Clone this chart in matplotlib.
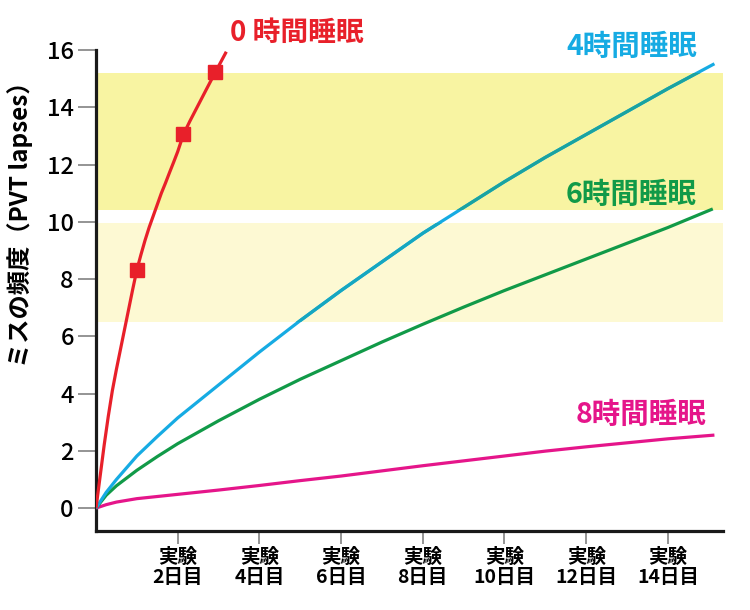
import matplotlib
matplotlib.use("Agg")
import matplotlib.pyplot as plt

plt.rcParams['font.family'] = ['Noto Sans CJK JP', 'DejaVu Sans']

# 0時間睡眠 (line + square markers)
days_0h = [0, 0.1, 0.2, 0.3, 0.4, 0.5, 0.6, 0.7, 0.8, 0.9, 1.0, 1.1, 1.2, 1.3,
           1.4, 1.5, 1.6, 1.7, 1.8, 1.9, 2.0, 2.14, 2.3, 2.5, 2.7, 2.92, 3.19]
lapses_0h = [0, 1.1, 2.2, 3.2, 4.1, 4.85, 5.55, 6.25, 6.95, 7.65, 8.32, 8.85,
             9.35, 9.8, 10.2, 10.6, 11.0, 11.35, 11.72, 12.08, 12.45, 13.05,
             13.52, 14.07, 14.62, 15.22, 15.94]
marker_days_0h = [1.0, 2.14, 2.92]
marker_lapses_0h = [8.32, 13.08, 15.22]

# 4時間睡眠
days_4h = [0, 0.25, 0.5, 1, 1.5, 2, 3, 4, 5, 6, 7, 8, 9, 10, 11, 12, 13, 14, 15.14]
lapses_4h = [0, 0.55, 1.0, 1.82, 2.5, 3.15, 4.3, 5.45, 6.55, 7.6, 8.6, 9.6,
             10.5, 11.4, 12.25, 13.05, 13.85, 14.65, 15.52]

# 6時間睡眠
days_6h = [0, 0.25, 0.5, 1, 1.5, 2, 3, 4, 5, 6, 7, 8, 9, 10, 11, 12, 13, 14, 15.1]
lapses_6h = [0, 0.45, 0.78, 1.32, 1.8, 2.25, 3.05, 3.8, 4.5, 5.15, 5.8, 6.42,
             7.02, 7.6, 8.15, 8.7, 9.25, 9.8, 10.45]

# 8時間睡眠
days_8h = [0, 0.25, 0.5, 1, 2, 3, 4, 5, 6, 7, 8, 9, 10, 11, 12, 13, 14, 15.14]
lapses_8h = [0, 0.12, 0.21, 0.33, 0.48, 0.63, 0.79, 0.96, 1.12, 1.3, 1.48,
             1.65, 1.82, 1.99, 2.14, 2.28, 2.42, 2.55]

# shaded ranges
band_high = (10.4, 15.2)
band_low = (6.5, 9.95)

tick_days = [2, 4, 6, 8, 10, 12, 14]
tick_labels = ["実験\n%d日目" % d for d in tick_days]
y_ticks = [0, 2, 4, 6, 8, 10, 12, 14, 16]

RED = "#E8202A"
BLUE = "#16ABE3"
GREEN = "#119A48"
MAGENTA = "#E5158A"

fig = plt.figure(figsize=(7.5, 6.1), dpi=100)
ax = fig.add_axes([0.128, 0.1295, 0.836, 0.7885])

# background bands
hi = ax.axhspan(band_high[0], band_high[1], color="#F8F4A2", lw=0, zorder=0)
lo = ax.axhspan(band_low[0], band_low[1], color="#FDF9D3", lw=0, zorder=0)

# lines
ax.plot(days_8h, lapses_8h, color=MAGENTA, lw=2.3, zorder=3, solid_capstyle="butt")
ax.plot(days_6h, lapses_6h, color=GREEN, lw=2.3, zorder=3, solid_capstyle="butt")
ax.plot(days_4h, lapses_4h, color=BLUE, lw=2.3, zorder=3, solid_capstyle="butt")
# blue looks teal where it crosses the yellow bands
l1, = ax.plot(days_4h, lapses_4h, color="#1AA3A0", lw=2.3, zorder=3.1, solid_capstyle="butt")
l1.set_clip_path(hi)
l2, = ax.plot(days_4h, lapses_4h, color="#16A7C0", lw=2.3, zorder=3.1, solid_capstyle="butt")
l2.set_clip_path(lo)
ax.plot(days_0h, lapses_0h, color=RED, lw=2.3, zorder=4, solid_capstyle="butt")
ax.plot(marker_days_0h, marker_lapses_0h, ls="none", marker="s", ms=10,
        color=RED, zorder=5)

ax.set_xlim(0, 15.35)
ax.set_ylim(-0.8, 16)

ax.set_yticks(y_ticks)
ax.set_yticklabels([str(v) for v in y_ticks], fontsize=17, fontweight="medium")
ax.set_xticks(tick_days)
ax.set_xticklabels(tick_labels, fontsize=14, fontweight="bold", linespacing=1.1)

ax.tick_params(axis="y", length=13, width=1.1, color="#777777", pad=3)
ax.tick_params(axis="x", length=9, width=1.1, color="#777777", pad=3)

for s in ["top", "right"]:
    ax.spines[s].set_visible(False)
for s in ["left", "bottom"]:
    ax.spines[s].set_linewidth(2.3)
    ax.spines[s].set_color("#1a1a1a")

ax.set_ylabel("ミスの頻度（PVT lapses）", fontsize=17.5, fontweight="bold")
ax.yaxis.set_label_coords(-0.1, 0.65)

# series labels
ax.text(3.28, 16.6, "0 時間睡眠", color=RED, fontsize=20, fontweight="bold",
        ha="left", va="center", clip_on=False)
ax.text(14.71, 16.1, "4時間睡眠", color=BLUE, fontsize=20.5, fontweight="bold",
        ha="right", va="center", clip_on=False)
ax.text(14.71, 10.93, "6時間睡眠", color=GREEN, fontsize=20.5, fontweight="bold",
        ha="right", va="center")
ax.text(14.95, 3.27, "8時間睡眠", color=MAGENTA, fontsize=20.5, fontweight="bold",
        ha="right", va="center")

fig.savefig("out.png", dpi=100)
